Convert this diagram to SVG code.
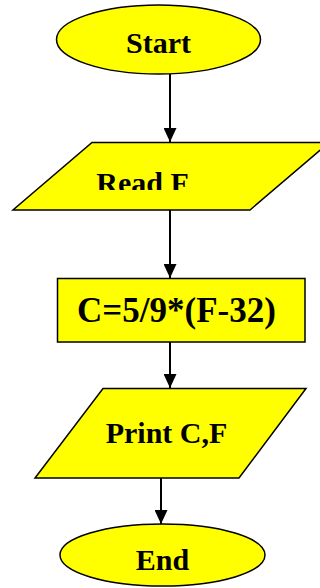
<svg xmlns="http://www.w3.org/2000/svg" width="320" height="588" viewBox="0 0 320 588">
<style>
.shape{fill:#FFFF00;stroke:#000;stroke-width:1.5}
.lbl{font-family:"Liberation Serif","Times New Roman",serif;font-weight:bold;font-size:30px;fill:#000;text-anchor:middle}
.conn{stroke:#000;stroke-width:2;fill:none;marker-end:url(#arrow)}
</style>
<defs>
<marker id="arrow" markerUnits="userSpaceOnUse" markerWidth="14" markerHeight="13" viewBox="0 0 14 13" refX="14" refY="6.5" orient="auto">
<path d="M0,0 L14,6.5 L0,13 Z" fill="#000"/>
</marker>
<clipPath id="readclip"><rect x="0" y="150" width="320" height="40"/></clipPath>
</defs>
<g id="connectors">
<line class="conn" x1="170" y1="74" x2="170" y2="142"/>
<line class="conn" x1="170" y1="210" x2="170" y2="278"/>
<line class="conn" x1="170" y1="342" x2="170" y2="388"/>
<line class="conn" x1="161" y1="478" x2="161" y2="524"/>
</g>
<g id="start">
<ellipse class="shape" cx="158.5" cy="39.5" rx="102" ry="34.5"/>
<text class="lbl" x="158.5" y="53">Start</text>
</g>
<g id="read">
<polygon class="shape" points="92,142.5 329,142.5 250,210 13,210"/>
<text class="lbl" x="142.5" y="193" clip-path="url(#readclip)">Read F</text>
</g>
<g id="calc">
<rect class="shape" x="57.5" y="278.5" width="247.5" height="63.5"/>
<text class="lbl" x="176.5" y="322" style="font-size:35px">C=5/9*(F-32)</text>
</g>
<g id="print">
<polygon class="shape" points="103,388.5 306,388.5 239,478 35,478"/>
<text class="lbl" x="166.5" y="443">Print C,F</text>
</g>
<g id="end">
<ellipse class="shape" cx="162.5" cy="555" rx="102.5" ry="31"/>
<text class="lbl" x="162.5" y="570">End</text>
</g>
</svg>
